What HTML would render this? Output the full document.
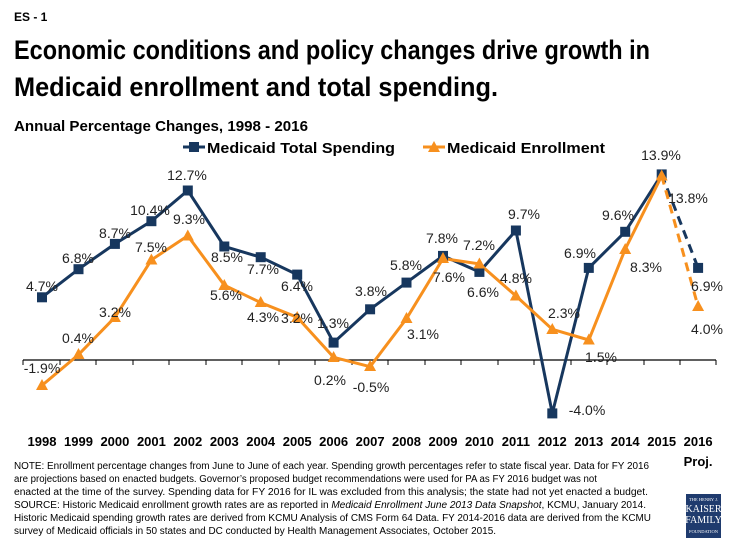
<!DOCTYPE html>
<html><head><style>
body{margin:0;width:735px;height:551px;background:#fff;font-family:"Liberation Sans",sans-serif;overflow:hidden;position:relative}
</style></head><body>
<svg width="735" height="551" style="position:absolute;left:0;top:0" font-family="Liberation Sans, sans-serif">
<text x="14" y="21" font-size="12" font-weight="bold">ES - 1</text>
<text x="14" y="59" font-size="27" font-weight="bold" textLength="636" lengthAdjust="spacingAndGlyphs">Economic conditions and policy changes drive growth in</text>
<text x="14" y="96" font-size="27" font-weight="bold" textLength="484" lengthAdjust="spacingAndGlyphs">Medicaid enrollment and total spending.</text>
<text x="14" y="131" font-size="15" font-weight="bold" textLength="294" lengthAdjust="spacingAndGlyphs">Annual Percentage Changes, 1998 - 2016</text>
<g font-size="15" font-weight="bold">
<line x1="183" y1="147" x2="205" y2="147" stroke="#17375e" stroke-width="3"/><rect x="189" y="142" width="10" height="10" fill="#17375e"/>
<text x="207" y="153" textLength="188" lengthAdjust="spacingAndGlyphs">Medicaid Total Spending</text>
<line x1="423" y1="147" x2="445" y2="147" stroke="#f7901e" stroke-width="3"/><polygon points="434,141 440,152 428,152" fill="#f7901e"/>
<text x="447" y="153" textLength="158" lengthAdjust="spacingAndGlyphs">Medicaid Enrollment</text>
</g>
<line x1="23" y1="360" x2="716" y2="360" stroke="#000" stroke-width="1.2"/>
<g stroke="#000" stroke-width="1"><line x1="23" y1="360" x2="23" y2="365"/><line x1="60" y1="360" x2="60" y2="365"/><line x1="96" y1="360" x2="96" y2="365"/><line x1="133" y1="360" x2="133" y2="365"/><line x1="169" y1="360" x2="169" y2="365"/><line x1="206" y1="360" x2="206" y2="365"/><line x1="242" y1="360" x2="242" y2="365"/><line x1="279" y1="360" x2="279" y2="365"/><line x1="315" y1="360" x2="315" y2="365"/><line x1="352" y1="360" x2="352" y2="365"/><line x1="388" y1="360" x2="388" y2="365"/><line x1="425" y1="360" x2="425" y2="365"/><line x1="461" y1="360" x2="461" y2="365"/><line x1="498" y1="360" x2="498" y2="365"/><line x1="534" y1="360" x2="534" y2="365"/><line x1="571" y1="360" x2="571" y2="365"/><line x1="607" y1="360" x2="607" y2="365"/><line x1="644" y1="360" x2="644" y2="365"/><line x1="680" y1="360" x2="680" y2="365"/><line x1="716" y1="360" x2="716" y2="365"/></g>
<polyline fill="none" stroke="#17375e" stroke-width="3" points="42,297.3 78.5,269.2 114.9,243.9 151.4,221.2 187.8,190.5 224.3,246.5 260.7,257.2 297.2,274.6 333.6,342.6 370.1,309.3 406.5,282.6 443,255.9 479.4,271.9 515.9,230.5 552.3,413.4 588.8,267.9 625.2,231.8 661.7,174.4"/>
<line x1="661.7" y1="174.4" x2="698.1" y2="267.9" stroke="#17375e" stroke-width="3" stroke-dasharray="9,6"/>
<polyline fill="none" stroke="#f7901e" stroke-width="3" points="42,385.4 78.5,354.7 114.9,317.3 151.4,259.9 187.8,235.8 224.3,285.2 260.7,302.6 297.2,317.3 333.6,357.3 370.1,366.7 406.5,318.6 443,258.5 479.4,263.9 515.9,295.9 552.3,329.3 588.8,340 625.2,249.2 661.7,175.8"/>
<line x1="661.7" y1="175.8" x2="698.1" y2="306.6" stroke="#f7901e" stroke-width="3" stroke-dasharray="9,6"/>
<g fill="#17375e">
<rect x="37" y="292.3" width="10" height="10"/><rect x="73.5" y="264.2" width="10" height="10"/><rect x="109.9" y="238.9" width="10" height="10"/><rect x="146.4" y="216.2" width="10" height="10"/><rect x="182.8" y="185.5" width="10" height="10"/><rect x="219.3" y="241.5" width="10" height="10"/><rect x="255.7" y="252.2" width="10" height="10"/><rect x="292.2" y="269.6" width="10" height="10"/><rect x="328.6" y="337.6" width="10" height="10"/><rect x="365.1" y="304.3" width="10" height="10"/><rect x="401.5" y="277.6" width="10" height="10"/><rect x="438" y="250.9" width="10" height="10"/><rect x="474.4" y="266.9" width="10" height="10"/><rect x="510.9" y="225.5" width="10" height="10"/><rect x="547.3" y="408.4" width="10" height="10"/><rect x="583.8" y="262.9" width="10" height="10"/><rect x="620.2" y="226.8" width="10" height="10"/><rect x="656.7" y="169.4" width="10" height="10"/><rect x="693.1" y="262.9" width="10" height="10"/>
</g>
<g fill="#f7901e">
<polygon points="42,379 48,390 36,390"/><polygon points="78.5,348 84.5,359 72.5,359"/><polygon points="114.9,311 120.9,322 108.9,322"/><polygon points="151.4,253.5 157.4,264.5 145.4,264.5"/><polygon points="187.8,229.5 193.8,240.5 181.8,240.5"/><polygon points="224.3,279 230.3,290 218.3,290"/><polygon points="260.7,296 266.7,307 254.7,307"/><polygon points="297.2,311 303.2,322 291.2,322"/><polygon points="333.6,351 339.6,362 327.6,362"/><polygon points="370.1,360 376.1,371 364.1,371"/><polygon points="406.5,312 412.5,323 400.5,323"/><polygon points="443,252 449,263 437,263"/><polygon points="479.4,257.5 485.4,268.5 473.4,268.5"/><polygon points="515.9,289.5 521.9,300.5 509.9,300.5"/><polygon points="552.3,323 558.3,334 546.3,334"/><polygon points="588.8,333.5 594.8,344.5 582.8,344.5"/><polygon points="625.2,243 631.2,254 619.2,254"/><polygon points="661.7,169.5 667.7,180.5 655.7,180.5"/><polygon points="698.1,300 704.1,311 692.1,311"/>
</g>
<g font-size="14" fill="#222" text-anchor="middle">
<text x="42" y="291">4.7%</text><text x="78" y="263">6.8%</text><text x="115" y="238">8.7%</text><text x="150" y="215">10.4%</text><text x="187" y="180">12.7%</text><text x="227" y="262">8.5%</text><text x="263" y="274">7.7%</text><text x="297" y="291">6.4%</text><text x="333" y="328">1.3%</text><text x="371" y="296">3.8%</text><text x="406" y="270">5.8%</text><text x="442" y="243">7.8%</text><text x="479" y="250">7.2%</text><text x="524" y="219">9.7%</text><text x="587" y="415">-4.0%</text><text x="580" y="258">6.9%</text><text x="618" y="220">9.6%</text><text x="661" y="160">13.9%</text><text x="707" y="291">6.9%</text>
<text x="42" y="373">-1.9%</text><text x="78" y="343">0.4%</text><text x="115" y="317">3.2%</text><text x="151" y="252">7.5%</text><text x="189" y="224">9.3%</text><text x="226" y="300">5.6%</text><text x="263" y="322">4.3%</text><text x="297" y="323">3.2%</text><text x="330" y="385">0.2%</text><text x="371" y="392">-0.5%</text><text x="423" y="339">3.1%</text><text x="449" y="282">7.6%</text><text x="483" y="297">6.6%</text><text x="516" y="283">4.8%</text><text x="564" y="318">2.3%</text><text x="601" y="362">1.5%</text><text x="646" y="272">8.3%</text><text x="688" y="203">13.8%</text><text x="707" y="334">4.0%</text>
</g>
<g font-size="13" font-weight="bold" text-anchor="middle">
<text x="42" y="446">1998</text><text x="78.5" y="446">1999</text><text x="114.9" y="446">2000</text><text x="151.4" y="446">2001</text><text x="187.8" y="446">2002</text><text x="224.3" y="446">2003</text><text x="260.7" y="446">2004</text><text x="297.2" y="446">2005</text><text x="333.6" y="446">2006</text><text x="370.1" y="446">2007</text><text x="406.5" y="446">2008</text><text x="443" y="446">2009</text><text x="479.4" y="446">2010</text><text x="515.9" y="446">2011</text><text x="552.3" y="446">2012</text><text x="588.8" y="446">2013</text><text x="625.2" y="446">2014</text><text x="661.7" y="446">2015</text><text x="698.1" y="446">2016</text><text x="698.1" y="466">Proj.</text>
</g>
<g font-size="10" fill="#000" lengthAdjust="spacingAndGlyphs">
<text x="14" y="469" textLength="635" lengthAdjust="spacingAndGlyphs">NOTE: Enrollment percentage changes from June to June of each year. Spending growth percentages refer to state fiscal year. Data for FY 2016</text>
<text x="14" y="482" textLength="583" lengthAdjust="spacingAndGlyphs">are projections based on enacted budgets. Governor’s proposed budget recommendations were used for PA as FY 2016 budget was not</text>
<text x="14" y="495" textLength="634" lengthAdjust="spacingAndGlyphs">enacted at the time of the survey. Spending data for FY 2016 for IL was excluded from this analysis; the state had not yet enacted a budget.</text>
<text x="14" y="508" textLength="632" lengthAdjust="spacingAndGlyphs">SOURCE: Historic Medicaid enrollment growth rates are as reported in <tspan font-style="italic">Medicaid Enrollment June 2013 Data Snapshot</tspan>, KCMU, January 2014.</text>
<text x="14" y="521" textLength="637" lengthAdjust="spacingAndGlyphs">Historic Medicaid spending growth rates are derived from KCMU Analysis of CMS Form 64 Data. FY 2014-2016 data are derived from the KCMU</text>
<text x="14" y="534" textLength="482" lengthAdjust="spacingAndGlyphs">survey of Medicaid officials in 50 states and DC conducted by Health Management Associates, October 2015.</text>
</g>
<rect x="686" y="494" width="35" height="44" fill="#1f3b6e"/>
<g fill="#fff" text-anchor="middle" font-family="Liberation Serif, serif">
<text x="703.5" y="501" font-size="4.5">THE HENRY J.</text>
<text x="703.5" y="512" font-size="10">KAISER</text>
<text x="703.5" y="523" font-size="10">FAMILY</text>
<text x="703.5" y="533" font-size="4.5">FOUNDATION</text>
</g>
</svg>
</body></html>
